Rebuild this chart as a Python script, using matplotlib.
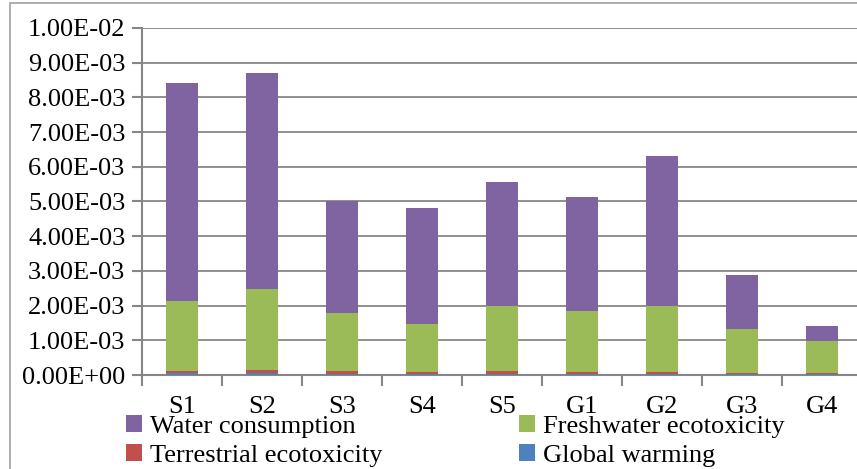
import numpy as np
import matplotlib
matplotlib.use("Agg")
from matplotlib import pyplot as plt
from matplotlib.patches import Rectangle

cats = ["S1", "S2", "S3", "S4", "S5", "G1", "G2", "G3", "G4"]

# stacked tops (units: 1e-3)
total = np.array([8.41, 8.70, 5.01, 4.80, 5.56, 5.12, 6.30, 2.88, 1.41])
fresh_top = np.array([2.13, 2.48, 1.78, 1.47, 2.00, 1.85, 2.00, 1.33, 0.98])
terr_top = np.array([0.12, 0.14, 0.12, 0.10, 0.12, 0.10, 0.10, 0.07, 0.07])
glob = np.array([0.05, 0.05, 0.04, 0.03, 0.04, 0.03, 0.03, 0.02, 0.02])

global_warming = glob * 1e-3
terrestrial = (terr_top - glob) * 1e-3
freshwater = (fresh_top - terr_top) * 1e-3
water = (total - fresh_top) * 1e-3

colors = {"Water consumption": "#8064A2", "Freshwater ecotoxicity": "#9BBB59",
          "Terrestrial ecotoxicity": "#C0504D", "Global warming": "#4F81BD"}

plt.rcParams['font.family'] = ['Liberation Serif', 'DejaVu Serif']
fs = 19
grey = "#868686"

fig = plt.figure(figsize=(8.57, 4.69), dpi=100)
fig.patches.append(Rectangle((10/857, -0.1), 1, 1.1 - 3/469, transform=fig.transFigure,
                             fill=False, edgecolor="#A0A0A0", lw=1.2))
ax = fig.add_axes([142/857, 1 - 375/469, 720/857, 347/469])

x = np.arange(len(cats))
w = 0.4
b1 = ax.bar(x, global_warming, w, color=colors["Global warming"], zorder=3)
b2 = ax.bar(x, terrestrial, w, bottom=global_warming, color=colors["Terrestrial ecotoxicity"], zorder=3)
bot = global_warming + terrestrial
b3 = ax.bar(x, freshwater, w, bottom=bot, color=colors["Freshwater ecotoxicity"], zorder=3)
bot = bot + freshwater
b4 = ax.bar(x, water, w, bottom=bot, color=colors["Water consumption"], zorder=3)

ax.set_xlim(-0.5, 8.5)
ax.set_ylim(0, 0.01)
yt = np.arange(0, 0.0101, 0.001)
ax.set_yticks(yt)
ax.set_yticklabels(["%.2fE%+03d" % (v / 10**np.floor(np.log10(v)), np.floor(np.log10(v))) if v > 0
                    else "0.00E+00" for v in yt], fontsize=fs)
ax.set_xticks(x)
ax.set_xticklabels(cats, fontsize=fs)
ax.set_xticks(np.arange(-0.5, 9, 1), minor=True)
ax.tick_params(axis="x", which="major", length=0, pad=15)
ax.tick_params(axis="x", which="minor", length=8, color=grey, width=1.5)
ax.tick_params(axis="y", length=7, color=grey, width=1.5, pad=5)
ax.grid(axis="y", color=grey, lw=1.3, zorder=0)
for s in ["top", "right"]:
    ax.spines[s].set_visible(False)
for s in ["left", "bottom"]:
    ax.spines[s].set_color(grey)
    ax.spines[s].set_linewidth(1.5)

# matplotlib fills legend columns first
handles = [b4, b2, b3, b1]
labels = ["Water consumption", "Terrestrial ecotoxicity", "Freshwater ecotoxicity", "Global warming"]
fig.legend(handles, labels, ncol=2, loc="upper left", bbox_to_anchor=(126/857, 1 - 415/469),
           frameon=False, fontsize=fs, handlelength=0.6, handleheight=0.6, handletextpad=0.3,
           columnspacing=5.2, labelspacing=0.25, borderaxespad=0, borderpad=0)

fig.savefig("out.png", dpi=100)
